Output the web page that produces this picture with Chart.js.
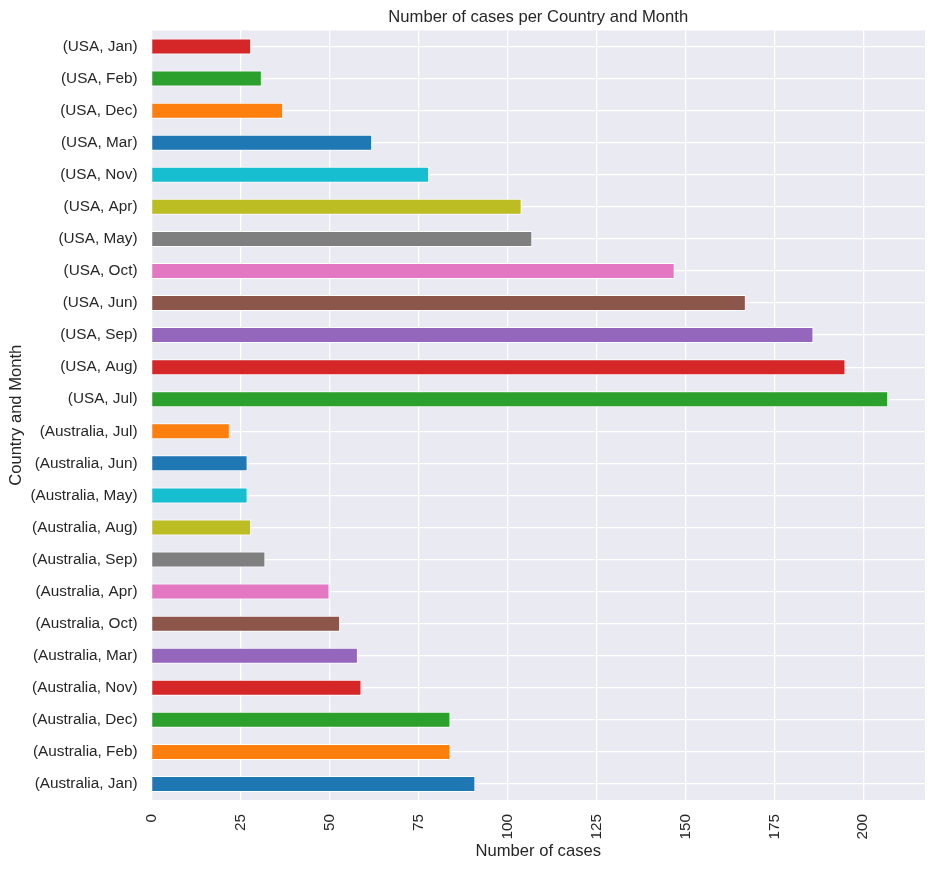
<!DOCTYPE html>
<html>
<head>
<meta charset="utf-8">
<script src="https://cdn.jsdelivr.net/npm/chart.js@4/dist/chart.umd.min.js"></script>
<style>
  html, body { margin: 0; padding: 0; background: #ffffff; }
  #c { display: block; }
</style>
</head>
<body>
<canvas id="c" width="935" height="869"></canvas>
<script>
// Data in plotting order (bottom of chart first)
const countries = [
  "Australia","Australia","Australia","Australia","Australia","Australia",
  "Australia","Australia","Australia","Australia","Australia","Australia",
  "USA","USA","USA","USA","USA","USA","USA","USA","USA","USA","USA","USA"
];
const months = [
  "Jan","Feb","Dec","Nov","Mar","Oct","Apr","Sep","Aug","May","Jun","Jul",
  "Jul","Aug","Sep","Jun","Oct","May","Apr","Nov","Mar","Dec","Feb","Jan"
];
const cases = [
  91, 84, 84, 59, 58, 53, 50, 32, 28, 27, 27, 22,
  207, 195, 186, 167, 147, 107, 104, 78, 62, 37, 31, 28
];
const xTicks = [0, 25, 50, 75, 100, 125, 150, 175, 200];
const xMax = 217.35;

const palette = ["#1f77b4","#ff7f0e","#2ca02c","#d62728","#9467bd",
                 "#8c564b","#e377c2","#7f7f7f","#bcbd22","#17becf"];

const labels = countries.map((c, i) => "(" + c + ", " + months[i] + ")");
const colors = cases.map((_, i) => palette[i % palette.length]);

const FONT = "'Liberation Sans', Arial, 'DejaVu Sans', sans-serif";
const TXT = "#262626";

const bgPlugin = {
  id: "bgPlugin",
  beforeDraw(chart) {
    const ctx = chart.ctx, a = chart.chartArea;
    ctx.save();
    ctx.fillStyle = "#ffffff";
    ctx.fillRect(0, 0, chart.width, chart.height);
    ctx.fillStyle = "#EAEAF2";
    ctx.fillRect(a.left, a.top, a.right - a.left, a.bottom - a.top);
    ctx.restore();
  },
  afterDraw(chart) {
    const ctx = chart.ctx, a = chart.chartArea;
    ctx.save();
    ctx.fillStyle = TXT;
    ctx.font = "16.6px " + FONT;
    ctx.textAlign = "center";
    ctx.textBaseline = "alphabetic";
    ctx.fillText("Number of cases per Country and Month", (a.left + a.right) / 2, 22);
    ctx.restore();
  }
};

new Chart(document.getElementById("c"), {
  type: "bar",
  data: {
    labels: labels,
    datasets: [{
      data: cases,
      backgroundColor: colors,
      borderColor: "#ffffff",
      borderWidth: 1,
      barPercentage: 0.5,
      categoryPercentage: 1.0
    }]
  },
  options: {
    indexAxis: "y",
    responsive: false,
    animation: false,
    devicePixelRatio: 1,
    layout: { padding: { top: 30.5, right: 10, bottom: 0, left: 0 } },
    plugins: {
      legend: { display: false },
      tooltip: { enabled: false },
      title: { display: false }
    },
    scales: {
      x: {
        type: "linear",
        min: 0,
        max: xMax,
        afterFit(scale) { scale.height = 69; },
        afterBuildTicks(scale) { scale.ticks = xTicks.map(v => ({ value: v })); },
        grid: { color: "#ffffff", lineWidth: 1.3, drawTicks: false },
        border: { display: false },
        ticks: {
          minRotation: 90, maxRotation: 90,
          padding: 14,
          color: TXT,
          font: { family: FONT, size: 15.3 }
        },
        title: {
          display: true,
          text: "Number of cases",
          color: TXT,
          font: { family: FONT, size: 16.6 },
          padding: { top: 0, bottom: 8 }
        }
      },
      y: {
        type: "category",
        reverse: true,
        afterFit(scale) { scale.width = 151.5; },
        grid: { color: "#ffffff", lineWidth: 1.3, drawTicks: false, offset: false },
        border: { display: false },
        ticks: {
          padding: 14,
          color: TXT,
          font: { family: FONT, size: 15.3 },
          autoSkip: false
        },
        title: {
          display: true,
          text: "Country and Month",
          color: TXT,
          font: { family: FONT, size: 16.6 },
          padding: { top: 6, bottom: 0 }
        }
      }
    }
  },
  plugins: [bgPlugin]
});
</script>
</body>
</html>
